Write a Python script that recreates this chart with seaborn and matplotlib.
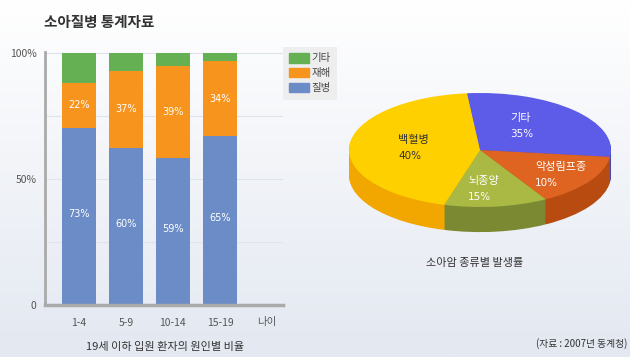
# 소아질병 통계자료: stacked bar + 3D-ish pie
import numpy as np
import matplotlib
matplotlib.use('Agg')
import matplotlib.pyplot as plt
from matplotlib.patches import Patch
import seaborn as sns
import pandas as pd

# bar chart data (segment heights as drawn, labels as printed)
ages = ['1-4', '5-9', '10-14', '15-19']
disease = [70.5, 62.5, 58.5, 67.0]
accident = [17.5, 30.5, 36.5, 30.0]
other = [12.0, 7.0, 5.0, 3.0]
disease_txt = ['73%', '60%', '59%', '65%']
accident_txt = ['22%', '37%', '39%', '34%']
order = ages + ['나이']

# pie data (as drawn) and printed labels
cancer = ['기타', '악성림프종', '뇌종양', '백혈병']
cancer_share = [28.5, 14.7, 12.8, 44.0]
cancer_txt = ['35%', '10%', '15%', '40%']

green, orange, blue = '#66b054', '#f7941d', '#6b8cc7'
top_cols = ['#5c5ce8', '#df6422', '#a9b943', '#ffd000']
side_cols = ['#4646b8', '#b84c10', '#7b8a32', '#f2a600']
txt_cols = ['white', 'white', 'white', '#333333']

sns.set_theme(style='white')
plt.rcParams['font.family'] = ['Noto Sans CJK KR', 'DejaVu Sans']

fig = plt.figure(figsize=(6.3, 3.57), dpi=100)

# background gradient
bg = fig.add_axes([0, 0, 1, 1], zorder=-10)
grad = np.linspace(0, 1, 256)[:, None]
bg.imshow(grad, aspect='auto', extent=[0, 1, 0, 1],
          cmap=matplotlib.colors.LinearSegmentedColormap.from_list('bg', ['#ffffff', '#e3e8f1']))
bg.set_axis_off()

# ---- bar chart ----
df = pd.DataFrame({'age': ages, 'disease': disease, 'accident': accident, 'other': other})
df['mid'] = df['disease'] + df['accident']
df['total'] = df['mid'] + df['other']

ax = fig.add_axes([45 / 630, 1 - 305 / 357, 238 / 630, 253 / 357])
ax.patch.set_alpha(0)
for col, c in [('total', green), ('mid', orange), ('disease', blue)]:
    sns.barplot(data=df, x='age', y=col, order=order, color=c, width=0.72,
                saturation=1, linewidth=0, ax=ax)

for i in range(len(ages)):
    ax.text(i, disease[i] / 2 + 1, disease_txt[i], color='white', fontsize=7,
            ha='center', va='center', family='DejaVu Sans')
    ax.text(i, disease[i] + accident[i] / 2, accident_txt[i], color='white', fontsize=7,
            ha='center', va='center', family='DejaVu Sans')

ax.set_xlim(-0.72, 4.34)
ax.set_ylim(0, 100.5)
ax.set_yticks([0, 50, 100])
ax.set_yticklabels(['0', '50%', '100%'])
ax.set_yticks([25, 75], minor=True)
ax.grid(axis='y', which='both', color='#dfe3ea', linewidth=0.8)
ax.set_axisbelow(True)
ax.set_xlabel('')
ax.set_ylabel('')
ax.tick_params(axis='both', length=0, labelsize=7.5, colors='#555555')
ax.tick_params(axis='x', pad=9)
ax.tick_params(axis='y', pad=6)
for s in ['top', 'right']:
    ax.spines[s].set_visible(False)
ax.spines['left'].set_color('#aaaaaa')
ax.spines['left'].set_linewidth(2)
ax.spines['bottom'].set_color('#aaaaaa')
ax.spines['bottom'].set_linewidth(2.5)

handles = [Patch(color=green, label='기타'), Patch(color=orange, label='재해'),
           Patch(color=blue, label='질병')]
leg = ax.legend(handles=handles, loc='upper left', bbox_to_anchor=(283 / 630, 1 - 47 / 357),
                bbox_transform=fig.transFigure, borderaxespad=0, fontsize=7.5,
                handlelength=1.85, handleheight=1.0, handletextpad=0.3, labelspacing=0.45,
                borderpad=0.6, frameon=True, fancybox=False, facecolor='#eeeeee',
                edgecolor='none', framealpha=1)
for t in leg.get_texts():
    t.set_color('#444444')

fig.text(165 / 630, 1 - 347 / 357, '19세 이하 입원 환자의 원인별 비율', fontsize=8,
         ha='center', va='center', color='#333333')
fig.text(44 / 630, 1 - 22 / 357, '소아질병 통계자료', fontsize=10.5, fontweight='bold',
         ha='left', va='center', color='#333333')

# ---- pie chart ----
pax = fig.add_axes([309.7 / 630, 1 - 252.6 / 357, 340.6 / 630, 176.7 / 357])
depth, n = 0.44, 30
for k in range(n, 0, -1):
    pax.pie(cancer_share, colors=side_cols, startangle=95.7, counterclock=False,
            center=(0, -depth * k / n), wedgeprops=dict(linewidth=0))
pax.pie(cancer_share, colors=top_cols, startangle=95.7, counterclock=False,
        wedgeprops=dict(linewidth=0))
pax.set_aspect('auto')
pax.set_xlim(-1.3, 1.3)
pax.set_ylim(-1.8, 1.3)
pax.set_axis_off()

# label anchors (pixel positions, left aligned two-line labels)
label_xy = [(510, 118), (535, 167), (468, 181), (398, 140)]
for (px, py), name, pct, c in zip(label_xy, cancer, cancer_txt, txt_cols):
    fig.text(px / 630, 1 - py / 357, name, fontsize=8, color=c, ha='left', va='center')
    fig.text(px / 630, 1 - (py + 16) / 357, pct, fontsize=7.5, color=c, ha='left',
             va='center', family='DejaVu Sans')

fig.text(475 / 630, 1 - 263 / 357, '소아암 종류별 발생률', fontsize=8,
         ha='center', va='center', color='#333333')
fig.text(627 / 630, 1 - 344 / 357, '(자료 : 2007년 동계청)', fontsize=7,
         ha='right', va='center', color='#333333')

fig.savefig('out.png', dpi=100)
